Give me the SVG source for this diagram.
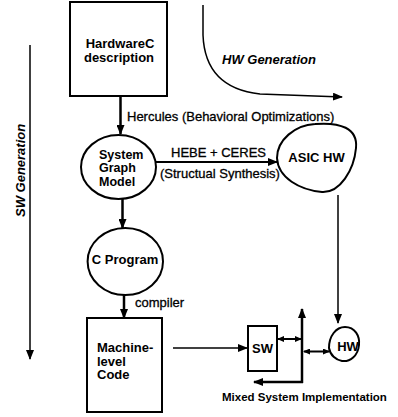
<svg xmlns="http://www.w3.org/2000/svg" width="398" height="417" viewBox="0 0 398 417">
<style>
.shape{fill:none;stroke:#000;stroke-width:2}
.lbl{font-family:"Liberation Sans",Arial,sans-serif;font-size:13px;font-weight:bold;fill:#000}
.edge{font-family:"Liberation Sans",Arial,sans-serif;font-size:13px;fill:#000;stroke:#000;stroke-width:0.3}
.gen{font-family:"Liberation Sans",Arial,sans-serif;font-size:13px;font-weight:bold;font-style:italic;fill:#000}
.c{fill:none;stroke:#000}
</style>
<defs>
<marker id="ah" markerUnits="userSpaceOnUse" markerWidth="10" markerHeight="8" refX="9" refY="4" orient="auto"><path d="M0,0 L10,4 L0,8 z" fill="#000"/></marker>
<marker id="ahs" markerUnits="userSpaceOnUse" markerWidth="7" markerHeight="6" refX="6" refY="3" orient="auto-start-reverse"><path d="M0,0 L7,3 L0,6 z" fill="#000"/></marker>
</defs>
<rect width="398" height="417" fill="#fff"/>

<g id="connectors">
<path class="c" d="M120.5,96 L120.5,134" stroke-width="2.5" marker-end="url(#ah)"/>
<path class="c" d="M122.5,199 L122.5,228" stroke-width="2.5" marker-end="url(#ah)"/>
<path class="c" d="M124,295 L124,318" stroke-width="2.5" marker-end="url(#ah)"/>
<path class="c" d="M156,162 L277,162" stroke-width="2" marker-end="url(#ah)"/>
<path class="c" d="M338,195 L338,323" stroke-width="1.5" marker-end="url(#ah)"/>
<path class="c" d="M173,348 L247,348" stroke-width="1.5" marker-end="url(#ah)"/>
<path class="c" d="M278,339 L301,339" stroke-width="2" marker-start="url(#ahs)" marker-end="url(#ahs)"/>
<path class="c" d="M304,351.5 L329,351.5" stroke-width="2" marker-start="url(#ahs)" marker-end="url(#ahs)"/>
<path class="c" d="M302,383 L302,309" stroke-width="2.5" marker-end="url(#ah)"/>
<path class="c" d="M303,382 L254,382" stroke-width="2.5" marker-end="url(#ah)"/>
<path class="c" d="M30,45 L30,359" stroke-width="1.5" marker-end="url(#ah)"/>
<path class="c" d="M203,5 L203,35 Q205,88 260,94 L342,97" stroke-width="1.5" marker-end="url(#ah)"/>
<text class="edge" x="127" y="121">Hercules (Behavioral Optimizations)</text>
<text class="edge" x="171" y="157">HEBE + CERES</text>
<text class="edge" x="160" y="178">(Structual Synthesis)</text>
<text class="edge" x="135" y="307">compiler</text>
<text class="gen" x="222" y="64">HW Generation</text>
<text class="gen" transform="translate(25,217) rotate(-90)">SW Generation</text>
</g>

<g id="hardwarec">
<rect class="shape" x="70" y="2" width="97" height="94"/>
<text class="lbl" x="120" y="48" text-anchor="middle">HardwareC</text>
<text class="lbl" x="119" y="62" text-anchor="middle">description</text>
</g>

<g id="sgm">
<ellipse class="shape" cx="118.5" cy="167" rx="37.5" ry="32"/>
<text class="lbl" x="99" y="158.5" style="font-size:12.5px">System</text>
<text class="lbl" x="99" y="172" style="font-size:12.5px">Graph</text>
<text class="lbl" x="99" y="186" style="font-size:12.5px">Model</text>
</g>

<g id="asic">
<path class="shape" d="M315,124 C340,122 358,128 356,148 C354,170 340,193 322,192 C300,190 278,178 277,158 C277,140 295,125 315,124 Z"/>
<text class="lbl" x="316.5" y="162" text-anchor="middle">ASIC HW</text>
</g>

<g id="cprogram">
<ellipse class="shape" cx="125.3" cy="261.5" rx="37.7" ry="33.5"/>
<text class="lbl" x="125" y="264" text-anchor="middle">C Program</text>
</g>

<g id="machine">
<rect class="shape" x="87" y="318" width="75" height="94"/>
<text class="lbl" x="97" y="352">Machine-</text>
<text class="lbl" x="97" y="365.5">level</text>
<text class="lbl" x="97" y="379">Code</text>
</g>

<g id="sw">
<rect class="shape" x="248" y="326" width="29" height="45" stroke-width="1.5"/>
<text class="lbl" x="262.5" y="353" text-anchor="middle">SW</text>
</g>

<g id="hw">
<path class="shape" d="M345,327 C355,327 360,336 359,345 C358,356 350,362 342,361 C336,360 330,355 329,348 C329,336 336,327 345,327 Z"/>
<text class="lbl" x="348" y="351" text-anchor="middle">HW</text>
</g>

<g id="caption">
<text class="lbl" x="222" y="401" style="font-size:11.5px">Mixed System Implementation</text>
</g>
</svg>
